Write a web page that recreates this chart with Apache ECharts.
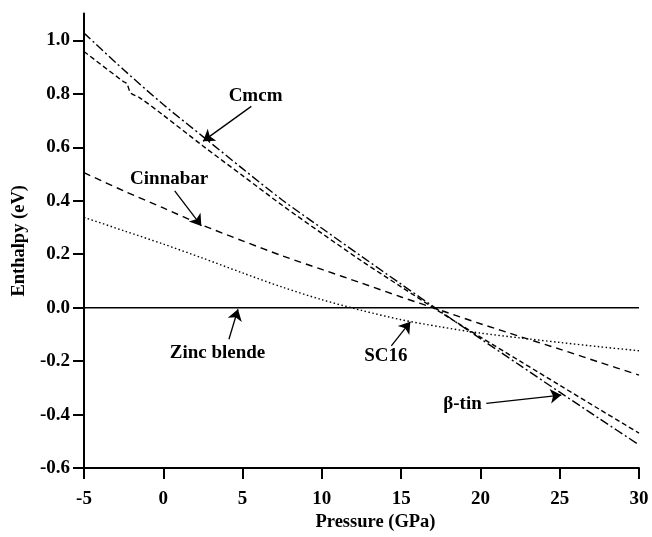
<!DOCTYPE html>
<html>
<head>
<meta charset="utf-8">
<script src="https://cdn.jsdelivr.net/npm/echarts@6/dist/echarts.min.js"></script>
<style>
  html, body { margin: 0; padding: 0; background: #fff; }
  #chart { width: 652px; height: 537px; }
</style>
</head>
<body>
<div id="chart"></div>
<script>
// pressure grid (GPa) shared by most curves
const pressure = [-5, -2.5, 0, 2.5, 5, 7.5, 10, 12.5, 15, 17.5, 20, 22.5, 25, 27.5, 30]

// enthalpy relative to zinc blende (eV)
const betaTin = [1.027, 0.89, 0.76, 0.64, 0.52, 0.403, 0.297, 0.192, 0.088, -0.015, -0.116, -0.216, -0.316, -0.415, -0.513]
const cinnabar = [0.505, 0.437, 0.373, 0.308, 0.25, 0.194, 0.143, 0.092, 0.04, -0.01, -0.06, -0.108, -0.155, -0.204, -0.252]
const sc16 = [0.338, 0.288, 0.238, 0.185, 0.13, 0.077, 0.03, -0.01, -0.045, -0.072, -0.095, -0.113, -0.13, -0.146, -0.161]

// Cmcm has a small kink near -2 GPa, so it keeps its own x values
const cmcmPressure = [-5, -2.5, -2.3, -2.05, -1.5, 0, 2.5, 5, 7.5, 10, 12.5, 15, 17.5, 20, 22.5, 25, 27.5, 30]
const cmcm = [0.958, 0.845, 0.838, 0.803, 0.786, 0.72, 0.605, 0.494, 0.383, 0.278, 0.175, 0.078, -0.018, -0.11, -0.2, -0.29, -0.38, -0.469]

const zincBlendePressure = [-5, 30]
const zincBlende = [0, 0]

const yTicks = [-0.6, -0.4, -0.2, 0.0, 0.2, 0.4, 0.6, 0.8, 1.0]

// annotation text positions [P, H, text] and arrows [from, to]
const labels = [
  [5.85, 0.79, 'Cmcm'],
  [0.4, 0.48, 'Cinnabar'],
  [3.45, -0.171, 'Zinc blende'],
  [14.07, -0.184, 'SC16'],
  [18.9, -0.364, 'β-tin']
]
const arrows = [
  [[5.55, 0.753], [2.51, 0.623]],
  [[0.72, 0.437], [2.4, 0.306]],
  [[4.14, -0.118], [4.71, -0.006]],
  [[14.38, -0.143], [15.58, -0.053]],
  [[20.37, -0.358], [25.1, -0.327]]
]

const pair = (xs, ys) => xs.map((x, i) => [x, ys[i]])
const font = 'Liberation Serif'

const chart = echarts.init(document.getElementById('chart'))

const curve = (name, xs, ys, type, width) => ({
  name,
  type: 'line',
  data: pair(xs, ys),
  showSymbol: false,
  symbol: 'none',
  smooth: 0.3,
  lineStyle: { color: '#000', width: width || 1.4, type },
  silent: true
})

chart.setOption({
  animation: false,
  backgroundColor: '#fff',
  grid: { left: 84, right: 13, top: 13.6, bottom: 67 },
  xAxis: {
    type: 'value',
    min: -5,
    max: 30,
    interval: 5,
    name: 'Pressure (GPa)',
    nameLocation: 'middle',
    nameGap: 41,
    nameTextStyle: { fontFamily: font, fontWeight: 'bold', fontSize: 18.5, color: '#000', padding: [0, 0, 0, 28] },
    axisLine: { onZero: false, lineStyle: { color: '#000', width: 2 } },
    axisTick: { length: 11, lineStyle: { color: '#000', width: 2 } },
    axisLabel: { margin: 21, fontFamily: font, fontWeight: 'bold', fontSize: 19, color: '#000' },
    splitLine: { show: false }
  },
  yAxis: {
    type: 'value',
    min: -0.6,
    max: 1.1,
    interval: 0.2,
    name: 'Enthalpy (eV)',
    nameLocation: 'middle',
    nameGap: 50,
    nameTextStyle: { fontFamily: font, fontWeight: 'bold', fontSize: 18.5, color: '#000' },
    axisLine: { show: true, onZero: false, lineStyle: { color: '#000', width: 2 } },
    axisTick: { show: true, length: 11, customValues: yTicks, lineStyle: { color: '#000', width: 2 } },
    axisLabel: {
      margin: 14,
      customValues: yTicks,
      fontFamily: font,
      fontWeight: 'bold',
      fontSize: 19,
      color: '#000',
      formatter: v => v.toFixed(1)
    },
    splitLine: { show: false }
  },
  series: [
    curve('Zinc blende', zincBlendePressure, zincBlende, 'solid', 1.6),
    curve('β-tin', pressure, betaTin, [9, 3, 2, 3]),
    curve('Cmcm', cmcmPressure, cmcm, [5, 3]),
    curve('Cinnabar', pressure, cinnabar, [7, 5]),
    curve('SC16', pressure, sc16, [1.5, 2.5]),
    {
      name: 'notes',
      type: 'scatter',
      data: labels,
      symbolSize: 1,
      itemStyle: { color: 'rgba(0,0,0,0)', opacity: 1 },
      silent: true,
      label: {
        show: true,
        position: [0, 0],
        align: 'center',
        verticalAlign: 'middle',
        formatter: p => p.data[2],
        fontFamily: font,
        fontWeight: 'bold',
        fontSize: 19,
        color: '#000',
        textBorderWidth: 0
      },
      markLine: {
        silent: true,
        symbol: ['none', 'arrow'],
        symbolSize: 11,
        label: { show: false },
        lineStyle: { color: '#000', width: 1.3, type: 'solid', opacity: 1 },
        data: arrows.map(a => [{ coord: a[0] }, { coord: a[1] }])
      }
    }
  ]
})
</script>
</body>
</html>
